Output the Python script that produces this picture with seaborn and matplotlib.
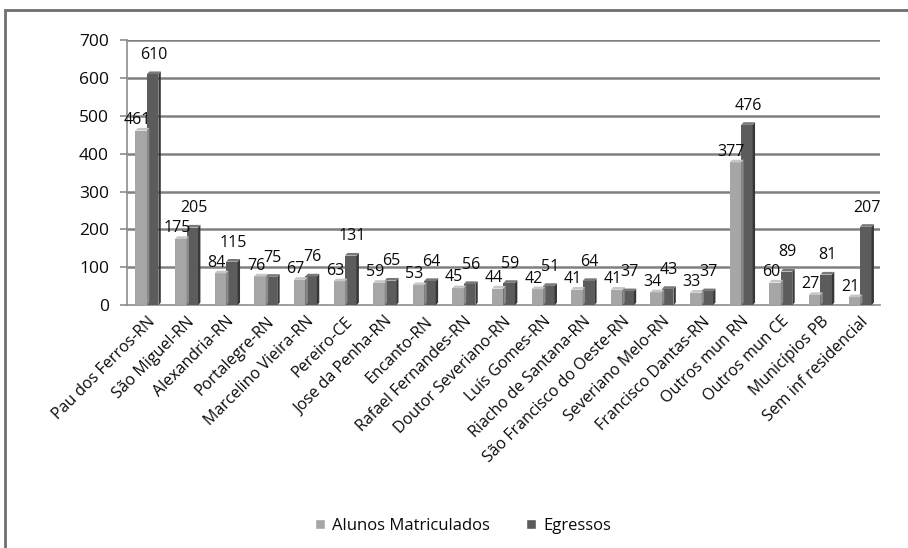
import matplotlib
matplotlib.use("Agg")
import matplotlib.pyplot as plt
from matplotlib.patches import Polygon, Rectangle
import seaborn as sns
import pandas as pd
import numpy as np

categories = [
    "Pau dos Ferros-RN", "São Miguel-RN", "Alexandria-RN", "Portalegre-RN",
    "Marcelino Vieira-RN", "Pereiro-CE", "Jose da Penha-RN", "Encanto-RN",
    "Rafael Fernandes-RN", "Doutor Severiano-RN", "Luís Gomes-RN",
    "Riacho de Santana-RN", "São Francisco do Oeste-RN", "Severiano Melo-RN",
    "Francisco Dantas-RN", "Outros mun RN", "Outros mun CE", "Municípios PB",
    "Sem inf residencial",
]
matriculados = [461, 175, 84, 76, 67, 63, 59, 53, 45, 44, 42, 41, 41, 34, 33, 377, 60, 27, 21]
egressos = [610, 205, 115, 75, 76, 131, 65, 64, 56, 59, 51, 64, 37, 43, 37, 476, 89, 81, 207]
series_names = ["Alunos Matriculados", "Egressos"]
y_ticks = [0, 100, 200, 300, 400, 500, 600, 700]

light, dark = "#a6a6a6", "#5c5c5c"
text_color = "#0a0a0a"

df = pd.DataFrame({
    "local": categories * 2,
    "valor": matriculados + egressos,
    "serie": [series_names[0]] * len(categories) + [series_names[1]] * len(categories),
})

sns.set_theme(style="white")
plt.rcParams["font.family"] = ["Open Sans", "DejaVu Sans"]

fig = plt.figure(figsize=(9.08, 5.48), dpi=100)
ax = fig.add_axes([0.14, 0.443, 0.829, 0.484])

sns.barplot(data=df, x="local", y="valor", hue="serie", hue_order=series_names,
            palette=[light, dark], width=0.58, saturation=1, ax=ax,
            edgecolor="none", legend=False, zorder=3)

n = len(categories)
ax.set_ylim(0, 700)
ax.set_xlim(-0.5, n - 0.5)
ax.set_yticks(y_ticks)
ax.set_yticklabels([str(t) for t in y_ticks], fontsize=12.5, color=text_color)
ax.set_xticks(range(n))
ax.set_xticklabels(categories, rotation=45, ha="right", rotation_mode="anchor",
                   fontsize=11.5, color=text_color)
ax.set_xticks(np.arange(-0.5, n, 1.0), minor=True)
ax.tick_params(axis="x", which="major", pad=6, length=0)
ax.tick_params(axis="x", which="minor", length=5, width=1.2, color="#8c8c8c", direction="out")
ax.tick_params(axis="y", pad=8, length=5, width=1.2, color="#8c8c8c", direction="out", left=True)
ax.set_xlabel("")
ax.set_ylabel("")

for t in y_ticks[1:]:
    ax.axhline(t, color="#808080", lw=1.8, zorder=1)
for s in ["top", "right"]:
    ax.spines[s].set_visible(False)
for s in ["left", "bottom"]:
    ax.spines[s].set_color("#8c8c8c")
    ax.spines[s].set_linewidth(1.2)

# small depth faces to give the bars a box look
dx, dy = 0.06, 7
shades = [light] * n + [dark] * n
for patch, shade in zip(ax.patches[:2 * n], shades):
    x0, w, h = patch.get_x(), patch.get_width(), patch.get_height()
    side = "#363636" if shade == dark else "#8a8a8a"
    top = "#787878" if shade == dark else "#c6c6c6"
    ax.add_patch(Polygon([(x0 + w, 0), (x0 + w + dx, dy), (x0 + w + dx, h + dy), (x0 + w, h)],
                         closed=True, facecolor=side, edgecolor="none", zorder=3))
    ax.add_patch(Polygon([(x0, h), (x0 + dx, h + dy), (x0 + w + dx, h + dy), (x0 + w, h)],
                         closed=True, facecolor=top, edgecolor="none", zorder=3))

# value labels
bars_m = ax.patches[:n]
bars_e = ax.patches[n:2 * n]
for bar, v in zip(bars_m, matriculados):
    ax.annotate(str(v), (bar.get_x() + bar.get_width() * 0.15, v), xytext=(0, 2),
                textcoords="offset points", ha="center", va="bottom",
                fontsize=11.5, color=text_color, zorder=5)
for bar, v in zip(bars_e, egressos):
    ax.annotate(str(v), (bar.get_x() + bar.get_width() * 0.6, v), xytext=(0, 8),
                textcoords="offset points", ha="center", va="bottom",
                fontsize=11.5, color=text_color, zorder=5)

# legend below the chart
handles = [Rectangle((0, 0), 1, 1, facecolor=c) for c in (light, dark)]
fig.legend(handles, series_names, loc="center", bbox_to_anchor=(0.51, 0.04),
           ncol=2, frameon=False, fontsize=12, handlelength=0.6, handleheight=0.6,
           columnspacing=2.2, handletextpad=0.4, labelcolor=text_color)

# outer chart frame
fig.add_artist(Rectangle((5 / 908, -0.1), 1.2, 1.1 - 10 / 548, transform=fig.transFigure,
                         fill=False, edgecolor="#6e6e6e", lw=2, clip_on=False))

fig.savefig("out.png", dpi=100)
